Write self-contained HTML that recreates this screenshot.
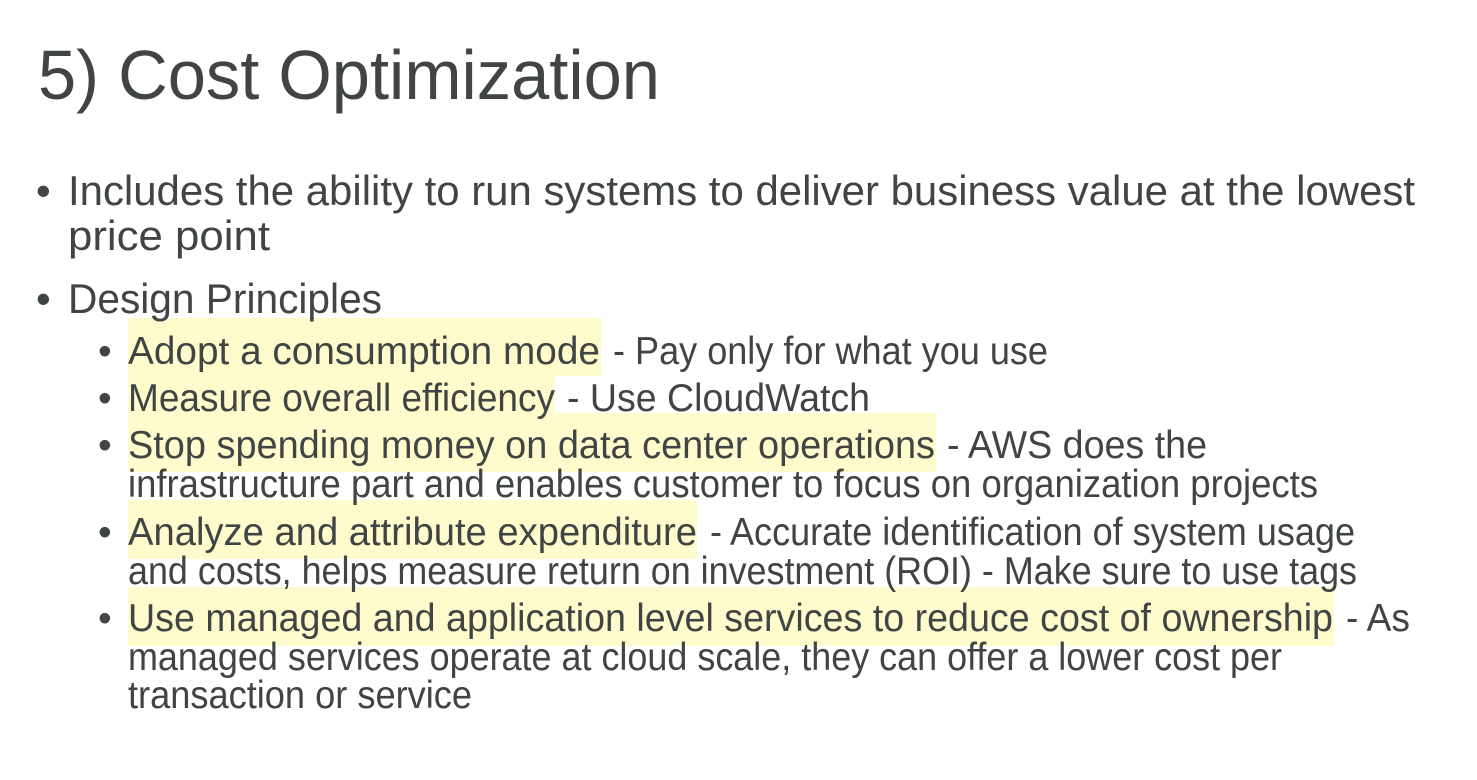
<!DOCTYPE html>
<html><head><meta charset="utf-8"><style>
html,body{margin:0;padding:0;background:#fff;width:1477px;height:780px;overflow:hidden}
svg{display:block}
text{font-family:"Liberation Sans",sans-serif;fill:#404444}
</style></head><body>
<svg width="1477" height="780" viewBox="0 0 1477 780">
<g fill="#fffbcc">
<rect x="128" y="318" width="473" height="58"/>
<rect x="128" y="366" width="427" height="59"/>
<rect x="128" y="413" width="808" height="59"/>
<rect x="128" y="500" width="569" height="59"/>
<rect x="128" y="587" width="1206" height="59"/>
</g>
<text x="38" y="99" font-size="70" textLength="622" lengthAdjust="spacingAndGlyphs">5) Cost Optimization</text>
<g font-size="42">
<text x="36" y="205">•</text>
<text x="68" y="205" textLength="1347" lengthAdjust="spacingAndGlyphs">Includes the ability to run systems to deliver business value at the lowest</text>
<text x="68" y="250" textLength="202" lengthAdjust="spacingAndGlyphs">price point</text>
<text x="36" y="313">•</text>
<text x="68" y="313" textLength="314" lengthAdjust="spacingAndGlyphs">Design Principles</text>
</g>
<g font-size="39">
<text x="98" y="364">•</text>
<text x="128" y="364" textLength="472" lengthAdjust="spacingAndGlyphs">Adopt a consumption mode</text>
<text x="613" y="364" textLength="435" lengthAdjust="spacingAndGlyphs">- Pay only for what you use</text>
<text x="98" y="411">•</text>
<text x="128" y="411" textLength="427" lengthAdjust="spacingAndGlyphs">Measure overall efficiency</text>
<text x="567" y="411" textLength="303" lengthAdjust="spacingAndGlyphs">- Use CloudWatch</text>
<text x="98" y="458">•</text>
<text x="128" y="458" textLength="807" lengthAdjust="spacingAndGlyphs">Stop spending money on data center operations</text>
<text x="947" y="458" textLength="260" lengthAdjust="spacingAndGlyphs">- AWS does the</text>
<text x="128" y="497" textLength="1190" lengthAdjust="spacingAndGlyphs">infrastructure part and enables customer to focus on organization projects</text>
<text x="98" y="545">•</text>
<text x="128" y="545" textLength="569" lengthAdjust="spacingAndGlyphs">Analyze and attribute expenditure</text>
<text x="710" y="545" textLength="645" lengthAdjust="spacingAndGlyphs">- Accurate identification of system usage</text>
<text x="128" y="584" textLength="1229" lengthAdjust="spacingAndGlyphs">and costs, helps measure return on investment (ROI) - Make sure to use tags</text>
<text x="98" y="631">•</text>
<text x="128" y="631" textLength="1205" lengthAdjust="spacingAndGlyphs">Use managed and application level services to reduce cost of ownership</text>
<text x="1346" y="631" textLength="64" lengthAdjust="spacingAndGlyphs">- As</text>
<text x="128" y="670" textLength="1154" lengthAdjust="spacingAndGlyphs">managed services operate at cloud scale, they can offer a lower cost per</text>
<text x="128" y="708" textLength="344" lengthAdjust="spacingAndGlyphs">transaction or service</text>
</g>
</svg>
</body></html>
